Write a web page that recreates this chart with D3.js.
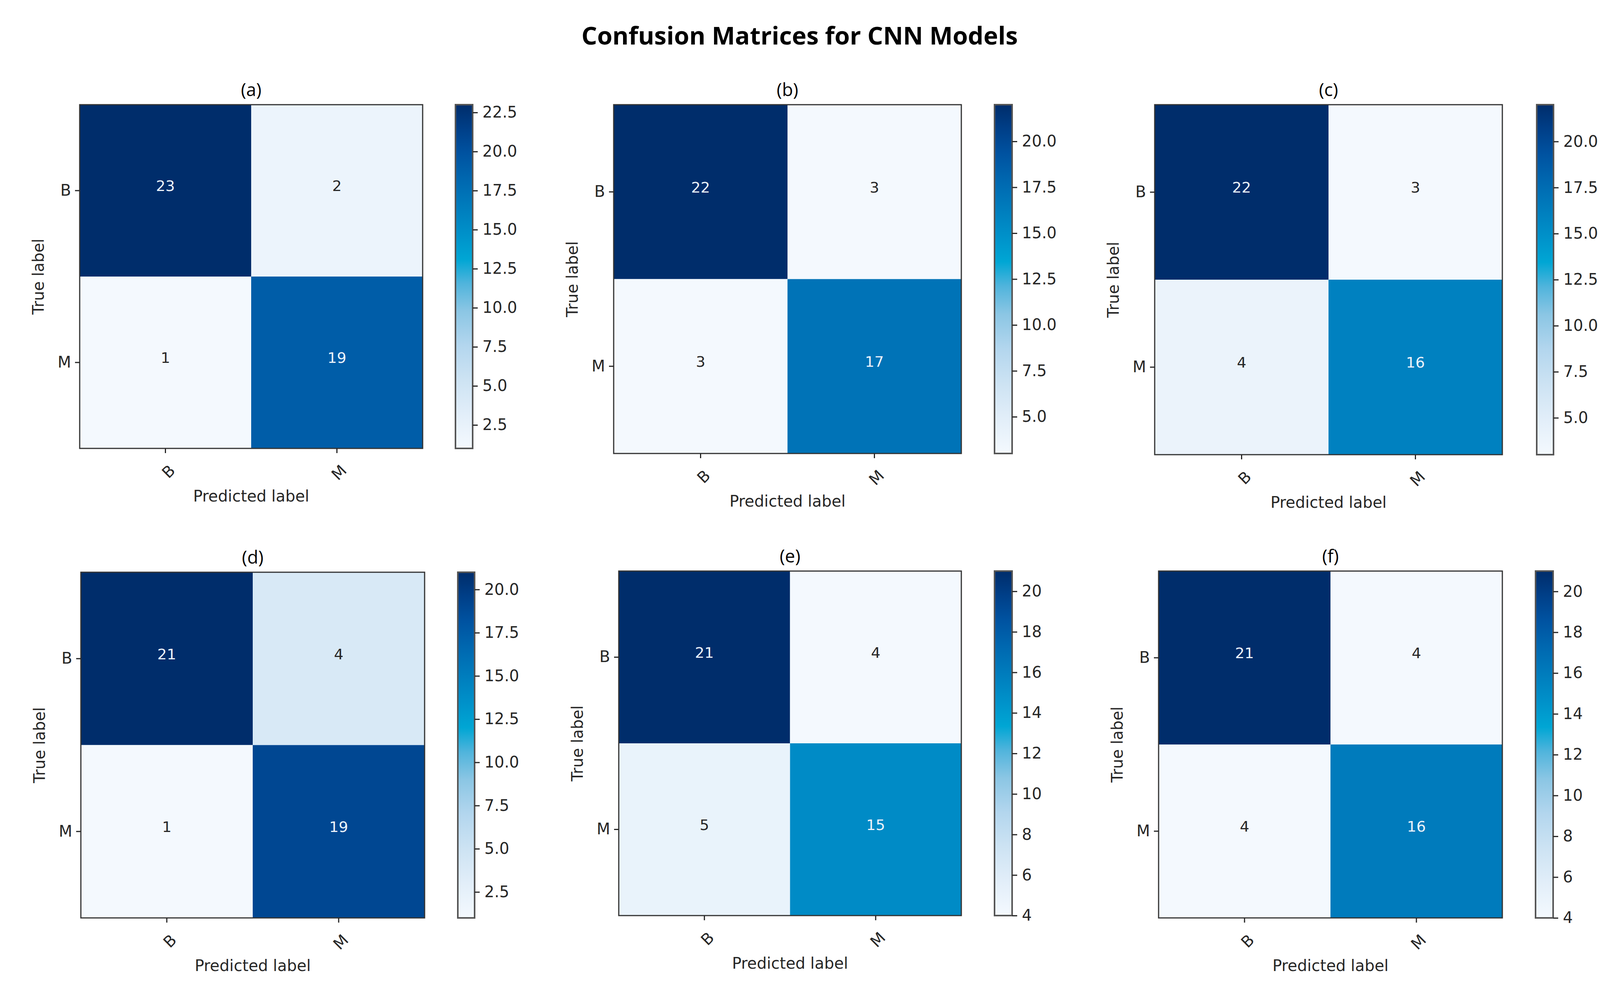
<!DOCTYPE html>
<html lang="en">
<head>
  <meta charset="UTF-8">
  <title>Confusion Matrices for CNN Models</title>
  <style>
    body { margin: 0; background: #fff; }
    .tick text { font-family: "DejaVu Sans", sans-serif; fill: #262626; }
    .tick line { stroke: #262626; }
    .axis-label { font-family: "DejaVu Sans", sans-serif; fill: #262626; }
    .panel-title { font-family: "Open Sans", sans-serif; fill: #000; }
    .main-title { font-family: "Open Sans", sans-serif; font-weight: bold; fill: #000; }
  </style>
</head>
<body>
  <div id="chart"></div>

  <script src="https://d3js.org/d3.v7.min.js"></script>
  <script>
    // Data
    const panelNames = ["(a)", "(b)", "(c)", "(d)", "(e)", "(f)"];
    const classes = ["B", "M"];
    const matrixA = [[23, 2], [1, 19]];
    const matrixB = [[22, 3], [3, 17]];
    const matrixC = [[22, 3], [4, 16]];
    const matrixD = [[21, 4], [1, 19]];
    const matrixE = [[21, 4], [5, 15]];
    const matrixF = [[21, 4], [4, 16]];
    const matrices = [matrixA, matrixB, matrixC, matrixD, matrixE, matrixF];
    const ticksHalf = [2.5, 5.0, 7.5, 10.0, 12.5, 15.0, 17.5, 20.0, 22.5];
    const ticksInt = [4, 6, 8, 10, 12, 14, 16, 18, 20];
    const colorbarTicks = [ticksHalf, ticksHalf, ticksHalf, ticksHalf, ticksInt, ticksInt];
    const tickFormats = [".1f", ".1f", ".1f", ".1f", "d", "d"];

    // Layout (pixel boxes of each heatmap and colorbar)
    const width = 4146;
    const height = 2532;
    const layout = [
      { x: 204,  y: 268,  w: 878, h: 880, cbx: 1166, cbw: 44 },
      { x: 1571, y: 268,  w: 890, h: 893, cbx: 2546, cbw: 45 },
      { x: 2956, y: 268,  w: 890, h: 896, cbx: 3934, cbw: 43 },
      { x: 207,  y: 1465, w: 880, h: 885, cbx: 1172, cbw: 43 },
      { x: 1584, y: 1462, w: 877, h: 882, cbx: 2546, cbw: 45 },
      { x: 2966, y: 1462, w: 880, h: 888, cbx: 3931, cbw: 45 }
    ];
    const fontSize = 40;

    // Blues-like ramp, as it appears in the figure
    const rampT = [0, 0.10, 0.20, 0.30, 0.40, 0.48, 0.55, 0.62, 0.70, 0.78, 0.86, 0.93, 1];
    const rampC = ["#f4f9fe", "#e2eef9", "#cde3f3", "#b3d6ee", "#8bc6e4", "#50b4dc", "#00a6d4",
                   "#0092ca", "#007dbd", "#0068b0", "#0052a0", "#003f88", "#002d6b"];
    const ramp = d3.scaleLinear().domain(rampT).range(rampC).clamp(true);

    const svg = d3.select("#chart")
      .append("svg")
      .attr("width", width)
      .attr("height", height);

    svg.append("rect").attr("width", width).attr("height", height).attr("fill", "#fff");

    const defs = svg.append("defs");

    // Title
    svg.append("text")
      .attr("class", "main-title")
      .attr("x", 2047)
      .attr("y", 114)
      .attr("text-anchor", "middle")
      .attr("font-size", 63)
      .text("Confusion Matrices for CNN Models");

    matrices.forEach((m, i) => {
      const L = layout[i];
      const flat = m.flat();
      const vmin = d3.min(flat), vmax = d3.max(flat);
      const norm = d3.scaleLinear().domain([vmin, vmax]).range([0, 1]);
      const color = v => ramp(norm(v));
      const thresh = vmax / 2;

      const g = svg.append("g").attr("transform", `translate(${L.x}, ${L.y})`);

      const xScale = d3.scaleBand().domain(classes).range([0, L.w]);
      const yScale = d3.scaleBand().domain(classes).range([0, L.h]);

      const cells = [];
      m.forEach((row, r) => row.forEach((v, c) => cells.push({ r: classes[r], c: classes[c], v })));

      // Cells
      g.selectAll(".cell")
        .data(cells)
        .enter()
        .append("rect")
        .attr("x", d => xScale(d.c))
        .attr("y", d => yScale(d.r))
        .attr("width", xScale.bandwidth())
        .attr("height", yScale.bandwidth())
        .attr("fill", d => color(d.v));

      // Cell values
      g.selectAll(".val")
        .data(cells)
        .enter()
        .append("text")
        .attr("x", d => xScale(d.c) + xScale.bandwidth() / 2)
        .attr("y", d => yScale(d.r) + yScale.bandwidth() / 2 - 12)
        .attr("dy", "0.35em")
        .attr("text-anchor", "middle")
        .attr("font-family", "DejaVu Sans, sans-serif")
        .attr("font-size", 38)
        .attr("fill", d => d.v > thresh ? "#eef4fb" : "#262626")
        .text(d => d.v);

      // Frame
      g.append("rect")
        .attr("width", L.w).attr("height", L.h)
        .attr("fill", "none").attr("stroke", "#333").attr("stroke-width", 3);

      // Y axis
      const yAxis = g.append("g")
        .call(d3.axisLeft(yScale).tickSize(12).tickPadding(10));
      yAxis.select(".domain").remove();
      yAxis.selectAll("line").attr("stroke-width", 3);
      yAxis.selectAll("text").attr("font-size", fontSize);

      // X axis
      const xAxis = g.append("g")
        .attr("transform", `translate(0, ${L.h})`)
        .call(d3.axisBottom(xScale).tickSize(12).tickPadding(10));
      xAxis.select(".domain").remove();
      xAxis.selectAll("line").attr("stroke-width", 3);
      xAxis.selectAll("text")
        .attr("font-size", fontSize)
        .attr("text-anchor", "end")
        .attr("dy", "0.35em")
        .attr("transform", "translate(2, 34) rotate(-45)");

      // Axis labels
      g.append("text")
        .attr("class", "axis-label")
        .attr("transform", `translate(${-92}, ${L.h / 2}) rotate(-90)`)
        .attr("text-anchor", "middle")
        .attr("font-size", fontSize)
        .text("True label");

      g.append("text")
        .attr("class", "axis-label")
        .attr("x", L.w / 2)
        .attr("y", L.h + 136)
        .attr("text-anchor", "middle")
        .attr("font-size", fontSize)
        .text("Predicted label");

      // Panel title
      g.append("text")
        .attr("class", "panel-title")
        .attr("x", L.w / 2)
        .attr("y", -22)
        .attr("text-anchor", "middle")
        .attr("font-size", 46)
        .text(panelNames[i]);

      // Colorbar
      const gradId = "grad" + i;
      const grad = defs.append("linearGradient")
        .attr("id", gradId)
        .attr("x1", 0).attr("y1", 1).attr("x2", 0).attr("y2", 0);
      rampT.forEach((t, k) => {
        grad.append("stop").attr("offset", t).attr("stop-color", rampC[k]);
      });

      const cb = svg.append("g").attr("transform", `translate(${L.cbx}, ${L.y})`);
      cb.append("rect")
        .attr("width", L.cbw).attr("height", L.h)
        .attr("fill", `url(#${gradId})`)
        .attr("stroke", "#555").attr("stroke-width", 4);

      const cScale = d3.scaleLinear().domain([vmin, vmax]).range([L.h, 0]);
      const cAxis = cb.append("g")
        .attr("transform", `translate(${L.cbw}, 0)`)
        .call(d3.axisRight(cScale)
          .tickValues(colorbarTicks[i].filter(t => t >= vmin && t <= vmax))
          .tickFormat(d3.format(tickFormats[i]))
          .tickSize(13).tickPadding(12));
      cAxis.select(".domain").remove();
      cAxis.selectAll("line").attr("stroke-width", 3);
      cAxis.selectAll("text").attr("font-size", fontSize);
    });
  </script>
</body>
</html>
